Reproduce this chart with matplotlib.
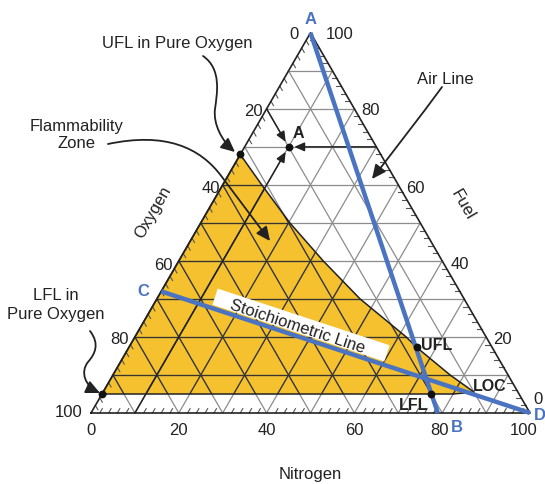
import numpy as np
import matplotlib.pyplot as plt
from matplotlib.patches import Polygon, Rectangle, FancyArrowPatch
from matplotlib.path import Path

plt.rcParams['font.family'] = ['Liberation Sans', 'DejaVu Sans']

# compositions are % nitrogen / % fuel, oxygen = 100 - N - F
zone_n = [0, 0, 8.9, 20.3, 32.9, 46.3, 61.8, 65.5, 76.8, 84.5, 80]
zone_f = [5, 68, 60, 50, 40, 30, 20, 17.3, 10, 5.5, 5]

air_n, air_f = [0, 79], [100, 0]          # A -> B
stoich_n, stoich_f = [0, 100], [32, 0]    # C -> D

pt_n = [0, 0, 65.5, 75, 10]               # UFL in O2, LFL in O2, UFL, LFL, A
pt_f = [68, 5, 17.3, 5, 70]

ticks = [0, 20, 40, 60, 80, 100]

BLUE = '#4a73c2'
YELLOW = '#f5c12f'


def xy(n, f):
    n = np.asarray(n, float)
    f = np.asarray(f, float)
    return n + f / 2, f * np.sqrt(3) / 2


S = 4.39  # px per percent


def pix(px, py):
    return (px - 91) / S, (414 - py) / S


fig = plt.figure(figsize=(5.45, 4.85), dpi=100)
ax = fig.add_axes([0, 0, 1, 1])
ax.set_xlim(pix(0, 0)[0], pix(545, 0)[0])
ax.set_ylim(pix(0, 485)[1], pix(0, 0)[1])
ax.axis('off')

# flammability zone
zx, zy = xy(zone_n, zone_f)
zone = Polygon(np.column_stack([zx, zy]), closed=True, fc=YELLOW, ec='none', zorder=1)
ax.add_patch(zone)

# grid
for k in range(10, 100, 10):
    segs = [((0, k), (100 - k, k)),          # constant fuel
            ((k, 0), (k, 100 - k)),          # constant nitrogen
            ((100 - k, 0), (0, 100 - k))]    # constant oxygen
    for (n0, f0), (n1, f1) in segs:
        gx, gy = xy([n0, n1], [f0, f1])
        ax.plot(gx, gy, color='#8c8c8c', lw=0.9, zorder=2)
        ln, = ax.plot(gx, gy, color='#3a3428', lw=0.9, zorder=2.1)
        ln.set_clip_path(zone)

# edge ticks every 2 %
tl = 1.15
for v in range(2, 100, 2):
    if v % 10 == 0:
        continue
    for (n0, f0), (n1, f1) in [((0, v), (tl, v - tl)),
                               ((100 - v, v), (100 - v - tl, v)),
                               ((v, 0), (v, tl))]:
        gx, gy = xy([n0, n1], [f0, f1])
        ax.plot(gx, gy, color='#555555', lw=0.8, zorder=2.5)

# zone outline
ax.plot(zx, zy, color='#222222', lw=1.1, zorder=3)
ax.plot(*xy([zone_n[-1], zone_n[0]], [zone_f[-1], zone_f[0]]), color='#222222', lw=1.1, zorder=3)

# triangle
tx, ty = xy([0, 100, 0, 0], [0, 0, 100, 0])
ax.plot(tx, ty, color='#222222', lw=1.2, zorder=3)

# construction lines to point A
a = (pt_n[4], pt_f[4])
for start in [(0, 80), (a[0], 0), (30, 70)]:
    sx, sy = xy(*start)
    ex, ey = xy(*a)
    d = np.hypot(ex - sx, ey - sy)
    ex2, ey2 = ex - (ex - sx) / d * 1.3, ey - (ey - sy) / d * 1.3
    ax.add_patch(FancyArrowPatch((float(sx), float(sy)), (float(ex2), float(ey2)),
                                 arrowstyle='-|>,head_length=0.5,head_width=0.22',
                                 mutation_scale=12, color='#222222', lw=1.1,
                                 shrinkA=0, shrinkB=0, zorder=3))

# blue lines
ax.plot(*xy(air_n, air_f), color=BLUE, lw=3.2, solid_capstyle='butt', zorder=4)
ax.plot(*xy(stoich_n, stoich_f), color=BLUE, lw=3.2, solid_capstyle='butt', zorder=4)

# points
px_, py_ = xy(pt_n, pt_f)
ax.plot(px_, py_, 'o', color='#111111', ms=4.6, zorder=6)

# stoichiometric label box
ang = np.degrees(np.arctan2(*(np.diff(xy(stoich_n, stoich_f)[::-1], axis=1).ravel())))
bc = pix(301, 326)
L, H = 181 / S, 17 / S
ax.add_patch(Rectangle((bc[0] - L / 2, bc[1] - H / 2), L, H, angle=ang,
                       rotation_point='center', fc='white', ec='none', zorder=5))
ax.text(*pix(297, 327), 'Stoichiometric Line', rotation=ang, rotation_mode='anchor',
        ha='center', va='center', fontsize=12, color='#222222', zorder=6)

# tick labels
fs = 12
ox_off = [(-12, -1), (-4, -2), (-3, -3), (-6, -4), (-6, -2), (-8, 1)]
for o, off in zip(ticks, ox_off):
    x, y = xy(0, 100 - o)
    ax.annotate(str(o), (x, y), xytext=off, textcoords='offset pixels',
                ha='right', va='center', fontsize=fs, color='#222222')
fu_off = [(15, -1), (7, -1), (8, -3), (8, -3), (7, -2), (3, 14)]
for f, off in zip(ticks[::-1], fu_off):
    x, y = xy(100 - f, f)
    ax.annotate(str(f), (x, y), xytext=off, textcoords='offset pixels',
                ha='left', va='center', fontsize=fs, color='#222222')
for n in ticks:
    x, y = xy(n, 0)
    off = (-6, -17) if n == 100 else ((-3, -17) if n == 80 else (0, -17))
    ax.annotate(str(n), (x, y), xytext=off, textcoords='offset pixels',
                ha='center', va='center', fontsize=fs, color='#222222')

# axis titles
ax.text(*pix(310, 475), 'Nitrogen', ha='center', va='center', fontsize=fs, color='#222222')
ax.text(*pix(153, 212), 'Oxygen', ha='center', va='center', rotation=60, fontsize=fs, color='#222222')
ax.text(*pix(463, 205), 'Fuel', ha='center', va='center', rotation=-60, fontsize=fs, color='#222222')

# blue letters
for s, p in [('A', (311, 19)), ('B', (457, 428)), ('C', (143, 292)), ('D', (540, 416))]:
    ax.text(*pix(*p), s, ha='center', va='center', fontsize=12, fontweight='bold', color=BLUE)

# bold point labels
for s, p in [('A', (298, 133)), ('UFL', (437, 345)), ('LOC', (490, 387)), ('LFL', (414, 406))]:
    ax.text(*pix(*p), s, ha='center', va='center', fontsize=11.5, fontweight='bold', color='#222222')

# annotations
ax.text(*pix(177, 43), 'UFL in Pure Oxygen', ha='center', va='center', fontsize=fs, color='#222222')
ax.text(*pix(77, 135), 'Flammability\nZone', ha='center', va='center', fontsize=fs,
        color='#222222', linespacing=1.25)
ax.text(*pix(445, 79), 'Air Line', ha='center', va='center', fontsize=fs, color='#222222')
ax.text(*pix(56, 305), 'LFL in\nPure Oxygen', ha='center', va='center', fontsize=fs,
        color='#222222', linespacing=1.25)


def curve(pts):
    verts = [pix(*p) for p in pts]
    codes = [Path.MOVETO] + [Path.CURVE4] * (len(verts) - 1)
    return Path(verts, codes)


arrow_kw = dict(arrowstyle='-|>,head_length=0.6,head_width=0.28', mutation_scale=14,
                color='#222222', lw=1.3, zorder=7)
ax.add_patch(FancyArrowPatch(path=curve([(203, 57), (222, 70), (217, 95), (215, 110),
                                         (213, 125), (222, 142), (235, 153)]), **arrow_kw))
ax.add_patch(FancyArrowPatch(path=curve([(108, 145), (165, 133), (200, 148), (222, 178),
                                         (240, 202), (255, 222), (270, 242)]), **arrow_kw))
ax.add_patch(FancyArrowPatch(path=curve([(442, 88), (420, 118), (395, 150), (372, 180)]), **arrow_kw))
ax.add_patch(FancyArrowPatch(path=curve([(90, 332), (100, 345), (95, 355), (88, 363),
                                         (80, 373), (85, 387), (100, 394)]), **arrow_kw))

fig.savefig('out.png', dpi=100)
